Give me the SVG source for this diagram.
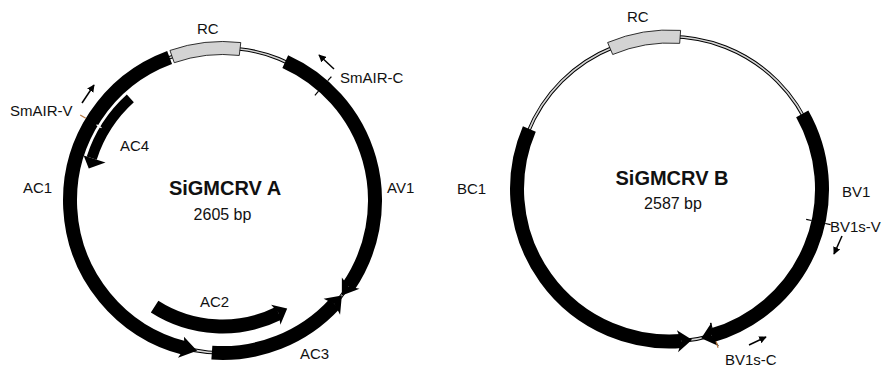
<svg xmlns="http://www.w3.org/2000/svg" width="894" height="368" viewBox="0 0 894 368">
<defs>
<style>
.bb1{fill:none;stroke:#000;stroke-width:3.6}
.bb2{fill:none;stroke:#d4d4d4;stroke-width:1.6}
.band{fill:none;stroke:#000;stroke-width:14}
.head{fill:#000}
.rc{fill:#d3d3d3;stroke:#000;stroke-width:0.8}
.tick{stroke:#000;stroke-width:1.2}
.otick{stroke:#b87a45;stroke-width:1.2}
.ptr{stroke:#000;stroke-width:1.5;fill:none;marker-end:url(#ah)}
.lbl{font-family:"Liberation Sans",Arial,Helvetica,sans-serif;font-size:15px;fill:#111}
.title{font-family:"Liberation Sans",Arial,Helvetica,sans-serif;font-size:20px;font-weight:bold;fill:#111}
.bp{font-family:"Liberation Sans",Arial,Helvetica,sans-serif;font-size:16px;fill:#111}
</style>
<marker id="ah" viewBox="0 0 10 10" refX="9" refY="5" markerWidth="5" markerHeight="5" orient="auto" markerUnits="strokeWidth">
<path d="M0,0 L10,5 L0,10 z" fill="#000"/>
</marker>
</defs>
<rect width="894" height="368" fill="#fff"/>

<!-- ===== SiGMCRV A ===== -->
<g id="backbone-A">
<circle cx="222.5" cy="200.5" r="152.5" class="bb1"/>
<circle cx="222.5" cy="200.5" r="152.5" class="bb2"/>
</g>
<g id="RC-A">
<path class="rc" d="M169.95,50.44 A159,159 0 0 1 240.77,42.55 L239.28,55.46 A146,146 0 0 0 174.25,62.71 Z"/>
<text class="lbl" x="197" y="34">RC</text>
</g>
<g id="AC1">
<path class="band" d="M185.09,348.33 A152.5,152.5 0 0 1 169.60,57.47"/>
<polygon class="head" points="197.06,350.87 177.98,357.82 184.57,348.21 183.97,336.65"/>
<text class="lbl" x="23" y="193">AC1</text>
</g>
<g id="AV1">
<path class="band" d="M285.25,61.51 A152.5,152.5 0 0 1 348.48,286.43"/>
<polygon class="head" points="341.85,295.43 359.52,288.80 348.48,286.43 341.87,277.42"/>
<text class="lbl" x="387" y="193">AV1</text>
</g>
<g id="AC3">
<path class="band" d="M334.57,303.93 A152.5,152.5 0 0 1 211.86,352.63"/>
<polygon class="head" points="341.85,295.43 340.07,314.84 334.57,303.93 323.58,298.81"/>
<text class="lbl" x="300" y="359">AC3</text>
</g>
<g id="AC2">
<path class="band" d="M278.72,313.26 A126,126 0 0 1 154.61,306.66"/>
<polygon class="head" points="287.20,308.62 280.40,324.66 278.72,313.26 271.10,304.72"/>
<text class="lbl" x="200" y="307">AC2</text>
</g>
<g id="AC4">
<path d="M91.73,158.01 A137.5,137.5 0 0 1 130.32,98.47" fill="none" stroke="#fff" stroke-width="13.5"/>
<path d="M91.73,158.01 A137.5,137.5 0 0 1 130.32,98.47" fill="none" stroke="#000" stroke-width="10.5"/>
<polygon class="head" points="88.79,168.41 83.64,155.39 105.51,162.49"/>
<text class="lbl" x="120" y="151">AC4</text>
</g>
<g id="SmAIR-V">
<line class="otick" x1="85.78" y1="118.36" x2="80.20" y2="115.01"/>
<line stroke="#fff" stroke-width="1.2" x1="96.49" y1="124.79" x2="101.5" y2="127.8"/>
<text class="lbl" x="10" y="116">SmAIR-V</text>
</g>
<g id="SmAIR-C">
<line class="tick" x1="327.77" y1="80.67" x2="331.40" y2="76.54"/>
<line class="tick" x1="318.53" y1="91.19" x2="314.90" y2="95.32"/>
<text class="lbl" x="340" y="82.5">SmAIR-C</text>
</g>
<g id="label-A">
<text class="title" x="225" y="195" text-anchor="middle">SiGMCRV A</text>
<text class="bp" x="222.5" y="220" text-anchor="middle">2605 bp</text>
</g>

<!-- ===== SiGMCRV B ===== -->
<g id="backbone-B">
<circle cx="669.5" cy="189" r="152.5" class="bb1"/>
<circle cx="669.5" cy="189" r="152.5" class="bb2"/>
</g>
<g id="RC-B">
<path class="rc" d="M607.63,42.53 A159,159 0 0 1 680.60,30.38 L679.69,43.35 A146,146 0 0 0 612.69,54.50 Z"/>
<text class="lbl" x="627" y="22">RC</text>
</g>
<g id="BC1">
<path class="band" d="M681.47,341.03 A152.5,152.5 0 0 1 529.34,128.93"/>
<polygon class="head" points="692.04,339.82 678.05,352.27 681.47,341.03 676.90,330.30"/>
<text class="lbl" x="457" y="194">BC1</text>
</g>
<g id="BV1">
<path class="band" d="M802.24,113.91 A152.5,152.5 0 0 1 711.53,335.60"/>
<polygon class="head" points="701.20,338.16 719.12,346.36 711.53,335.60 711.60,322.52"/>
<text class="lbl" x="842" y="197">BV1</text>
</g>
<g id="BV1s-V">
<line class="tick" x1="825.22" y1="223.52" x2="830.59" y2="224.71"/>
<line class="tick" x1="811.55" y1="220.49" x2="806.18" y2="219.30"/>
<text class="lbl" x="830" y="231.5">BV1s-V</text>
</g>
<g id="BV1s-C">
<line class="otick" x1="716.14" y1="341.53" x2="718.04" y2="347.75"/>
<line class="tick" x1="712.04" y1="328.14" x2="710.44" y2="322.88"/>
<text class="lbl" x="725" y="365">BV1s-C</text>
</g>
<g id="label-B">
<text class="title" x="672" y="185" text-anchor="middle">SiGMCRV B</text>
<text class="bp" x="673" y="209" text-anchor="middle">2587 bp</text>
</g>

<!-- primer direction arrows -->
<g id="connectors">
<line class="ptr" x1="82" y1="103" x2="94" y2="85"/>
<line class="ptr" x1="334" y1="69" x2="319" y2="55"/>
<line class="ptr" x1="842" y1="236" x2="834" y2="254"/>
<line class="ptr" x1="749" y1="345" x2="766" y2="337"/>
</g>
</svg>
